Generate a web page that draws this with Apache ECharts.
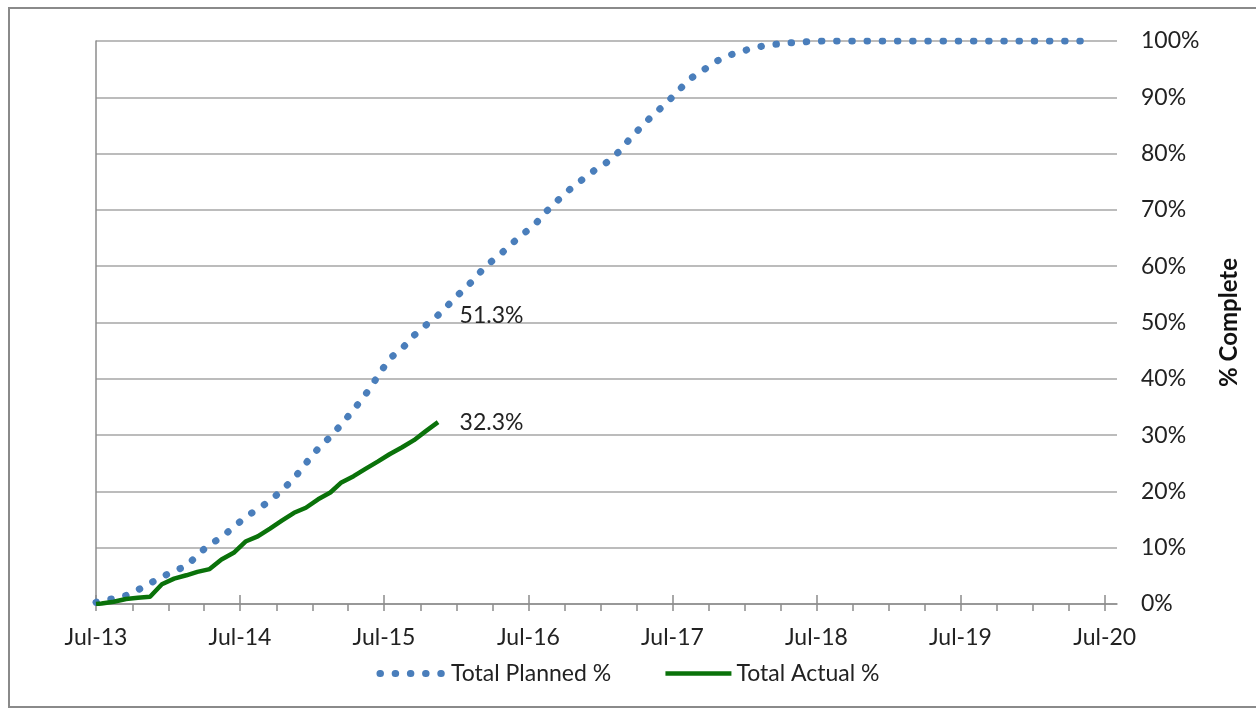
<!DOCTYPE html>
<html>
<head>
<meta charset="utf-8">
<script src="https://cdn.jsdelivr.net/npm/echarts@6.0.0/dist/echarts.min.js"></script>
<style>
  html, body { margin: 0; padding: 0; background: #fff; }
  #chart { width: 1256px; height: 709px; }
</style>
</head>
<body>
<div id="chart"></div>
<script>
// monthly readings (mid-month), first entry is the 1 Jul 2013 start
const plannedPct = [
  0.3, 0.6, 0.95, 1.5, 2.5, 3.7, 4.8, 5.9, 6.7, 8.7, 10.6, 11.8, 13.7, 15.4, 16.9, 18.3,
  20.2, 22.3, 25.0, 27.6, 29.7, 31.9, 34.5, 37.2, 40.4, 43.6, 45.3, 47.7, 49.5, 51.3,
  53.4, 55.6, 57.7, 60.1, 61.7, 63.7, 65.6, 67.2, 69.7, 71.8, 73.7, 75.4, 77.0, 78.4,
  80.3, 82.6, 84.9, 87.0, 88.9, 91.1, 93.3, 94.7, 96.2, 97.3, 98.0, 98.6, 99.1, 99.4,
  99.6, 99.8, 99.9,
  100, 100, 100, 100, 100, 100, 100, 100, 100, 100, 100, 100,
  100, 100, 100, 100, 100, 100, 100, 100, 100, 100, 100
]
const actualPct = [
  0, 0.1, 0.4, 0.9, 1.1, 1.3, 3.5, 4.5, 5.1, 5.7, 6.2, 7.9, 9.1, 11.1, 12.0, 13.4,
  14.8, 16.2, 17.1, 18.6, 19.8, 21.6, 22.7, 24.0, 25.3, 26.6, 27.8, 29.1, 30.7, 32.3
]
const seriesNames = ['Total Planned %', 'Total Actual %']
const plannedLabelIdx = 29

// dates: start of Jul-13, then the 15th of every month
const dates = [new Date(2013, 6, 1).getTime()]
for (let k = 0; k < plannedPct.length - 1; k++) dates.push(new Date(2013, 6 + k, 15).getTime())

const xMin = new Date(2013, 6, 1).getTime()
const xMax = new Date(2020, 7, 1).getTime()
const yearTicks = []
for (let y = 2013; y <= 2020; y++) yearTicks.push(new Date(y, 6, 1).getTime())
const quarterTicks = []
for (let q = 0; q <= 28; q++) quarterTicks.push(new Date(2013, 6 + q * 3, 1).getTime())

const FONT = 'Lato'
const TXT = '#222'
const GRID = '#a6a6a6'
const AXIS = '#8c8c8c'
const BLUE = '#4a7ebb'
const GREEN = '#0a720a'
const plannedLine = { color: BLUE, width: 7, type: [0.5, 14.7], cap: 'round' }
const actualLine = { color: GREEN, width: 4.5 }

// value label placed right of a point, via markPoint
function valueMark(x, v) {
  return {
    coord: [x, v],
    value: v,
    label: { show: true, position: 'right', distance: 21, formatter: v.toFixed(1) + '%', fontSize: 23, color: TXT, fontFamily: FONT }
  }
}
const markBase = { symbol: 'circle', symbolSize: 1, itemStyle: { color: 'transparent' }, silent: true }

const chart = echarts.init(document.getElementById('chart'))
chart.setOption({
  animation: false,
  textStyle: { fontFamily: FONT },
  grid: { left: 96, top: 41, right: 139, bottom: 105 },
  graphic: [{
    type: 'rect',
    shape: { x: 9, y: 8, width: 1262, height: 699 },
    style: { fill: 'none', stroke: '#8a8a8a', lineWidth: 2 },
    silent: true
  }],
  legend: {
    bottom: 19,
    left: 'center',
    itemWidth: 66,
    itemHeight: 14,
    itemGap: 52,
    itemStyle: { opacity: 0 },
    textStyle: { fontSize: 23, color: TXT, fontFamily: FONT },
    data: [
      { name: seriesNames[0], lineStyle: plannedLine },
      { name: seriesNames[1], lineStyle: actualLine }
    ]
  },
  xAxis: [{
    type: 'value',
    min: xMin,
    max: xMax,
    axisLine: { lineStyle: { color: AXIS, width: 1.5 } },
    axisTick: { show: true, customValues: quarterTicks, length: 7, lineStyle: { color: AXIS, width: 1.5 } },
    axisLabel: {
      customValues: yearTicks,
      margin: 22,
      fontSize: 23,
      color: TXT,
      fontFamily: FONT,
      formatter: (val) => 'Jul-' + String(new Date(val).getFullYear()).slice(2)
    },
    splitLine: { show: false }
  }, {
    type: 'value',
    min: xMin,
    max: xMax,
    position: 'bottom',
    axisLine: { show: false },
    axisTick: { show: true, inside: true, customValues: yearTicks, length: 9, lineStyle: { color: AXIS, width: 1.5 } },
    axisLabel: { show: false },
    splitLine: { show: false }
  }],
  yAxis: [{
    type: 'value',
    position: 'right',
    min: 0,
    max: 100,
    interval: 10,
    name: '% Complete',
    nameLocation: 'middle',
    nameRotate: 90,
    nameGap: 100,
    nameTextStyle: { fontSize: 24, fontWeight: 'bold', color: '#111', fontFamily: FONT },
    axisLine: { show: false },
    axisTick: { show: false },
    axisLabel: {
      margin: 24,
      fontSize: 23,
      color: TXT,
      fontFamily: FONT,
      formatter: (v) => v + '%'
    },
    splitLine: { lineStyle: { color: GRID, width: 1.5 } }
  }, {
    type: 'value',
    position: 'left',
    min: 0,
    max: 100,
    axisLine: { show: true, lineStyle: { color: AXIS, width: 1.5 } },
    axisTick: { show: false },
    axisLabel: { show: false },
    splitLine: { show: false }
  }],
  series: [{
    name: seriesNames[0],
    type: 'line',
    xAxisIndex: 0,
    yAxisIndex: 0,
    symbol: 'none',
    color: BLUE,
    lineStyle: plannedLine,
    data: plannedPct.map((v, i) => [dates[i], v]),
    markPoint: Object.assign({ data: [valueMark(dates[plannedLabelIdx], plannedPct[plannedLabelIdx])] }, markBase),
    z: 3
  }, {
    name: seriesNames[1],
    type: 'line',
    xAxisIndex: 0,
    yAxisIndex: 0,
    symbol: 'none',
    color: GREEN,
    lineStyle: actualLine,
    data: actualPct.map((v, i) => [dates[i], v]),
    markPoint: Object.assign({ data: [valueMark(dates[actualPct.length - 1], actualPct[actualPct.length - 1])] }, markBase),
    z: 4
  }]
})
</script>
</body>
</html>
